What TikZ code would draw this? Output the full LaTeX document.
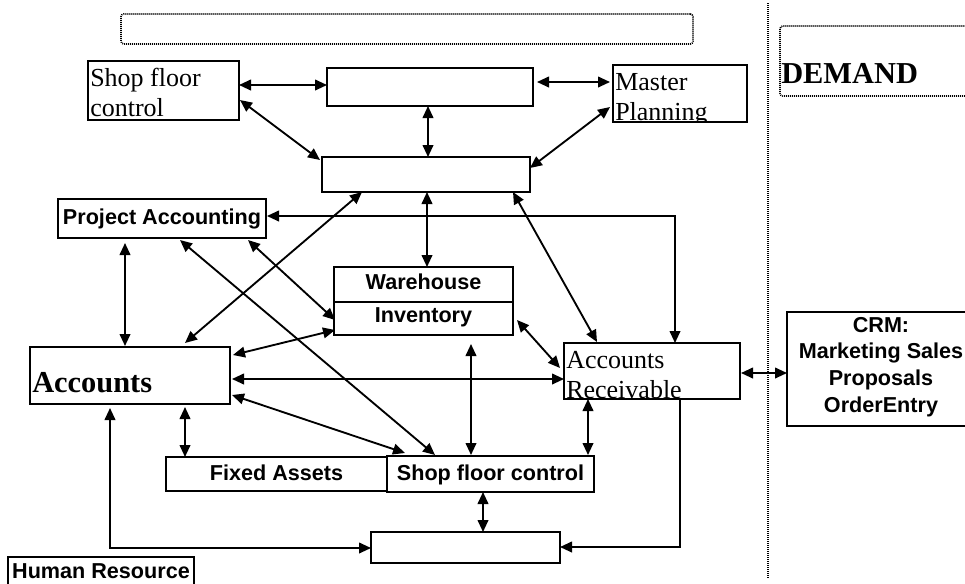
\documentclass[tikz,border=0pt]{standalone}
\usepackage{fontspec}
\setmainfont{Liberation Serif}
\setsansfont{Liberation Sans}
\usetikzlibrary{arrows.meta,calc}
\newcommand\mkbox[6]{\node[#6, minimum width={(#4-#2)*0.75pt}, minimum height={(#5-#3)*0.75pt}] (#1) at ({(#2+#4)/2},{(#3+#5)/2}) {};}
\begin{document}
\begin{tikzpicture}[x=0.75pt,y=-0.75pt,
  box/.style={draw, line width=1.5pt, inner sep=0pt, outer sep=0pt},
  dotbox/.style={draw, line width=1.2pt, dash pattern=on 0.75pt off 0.75pt, rounded corners=2pt, inner sep=0pt, outer sep=0pt},
  serif/.style={font=\fontsize{19.5pt}{22.5pt}\selectfont, inner sep=0pt, align=left},
  bserif/.style={font=\fontsize{22.8pt}{26pt}\selectfont\bfseries, inner sep=0pt},
  bsans/.style={font=\fontsize{16.2pt}{20pt}\selectfont\sffamily\bfseries, inner sep=0pt, align=center},
  dbl/.style={line width=1.4pt, {Triangle[length=9pt,width=8pt]}-{Triangle[length=9pt,width=8pt]}},
  sgl/.style={line width=1.4pt, -{Triangle[length=9pt,width=8pt]}}
]
\useasboundingbox (0,0) rectangle (965,583);
\clip (0,0) rectangle (965,583);

% dotted frames
\mkbox{topd}{121}{14}{693}{44}{dotbox}
\mkbox{dem}{780}{26}{985}{96}{dotbox}
\node[bserif, anchor=base west] (demt) at (781,83) {DEMAND};
\coordinate (vtop) at (768,3);
\coordinate (vbot) at (768,578);
\draw[line width=1.2pt, dash pattern=on 0.75pt off 0.75pt] (vtop) -- (vbot);

% boxes
\mkbox{sfc1}{88}{61}{239}{120}{box}
\mkbox{top}{327}{68}{533}{106}{box}
\mkbox{mp}{613}{65}{747}{122}{box}
\mkbox{mid}{322}{157}{530}{192}{box}
\mkbox{pa}{58}{199}{266}{238}{box}
\mkbox{wh}{334}{267}{513}{302}{box}
\mkbox{inv}{334}{302}{513}{335}{box}
\mkbox{acc}{30}{347}{230}{404}{box}
\mkbox{ar}{564}{343}{740}{399}{box}
\mkbox{crm}{787}{312}{975}{426}{box}
\mkbox{fa}{166}{457}{387}{491}{box}
\mkbox{sfc2}{387}{456}{594}{492}{box}
\mkbox{bot}{371}{532}{560}{563}{box}
\mkbox{hr}{8}{557}{194}{590}{box}

% texts (multi-line nodes: base = baseline of last line)
\node[serif, anchor=base west] (sfc1t) at (90,116) {Shop floor\\control};
\begin{scope}
\clip (mp.north west) rectangle (mp.south east);
\node[serif, anchor=base west] (mpt) at (615,120) {Master\\Planning};
\end{scope}
\begin{scope}
\clip (ar.north west) rectangle (ar.south east);
\node[serif, anchor=base west] (art) at (566,398) {Accounts\\Receivable};
\end{scope}
\node[bserif, anchor=base west] (acct) at (32,392) {Accounts};
\node[bsans] (pat) at (pa.center) {Project Accounting};
\node[bsans] (wht) at ($(wh.center)+(0,-3)$) {Warehouse};
\node[bsans] (invt) at ($(inv.center)+(0,-1)$) {Inventory};
\node[bsans] (fat) at ($(fa.center)+(0,-1)$) {Fixed Assets};
\node[bsans] (sfc2t) at ($(sfc2.center)+(0,1)$) {Shop floor control};
\node[bsans] (hrt) at (101,571) {Human Resource};
\node[bsans, anchor=base] (crmt) at (881,412) {CRM:\\Marketing Sales\\Proposals\\OrderEntry};

% connectors
\draw[dbl] ($(sfc1.north east)+(0,24)$) -- ($(top.north west)+(0,17)$);
\draw[dbl] ($(top.north east)+(4,14)$) -- ($(mp.north west)+(-3,17)$);
\draw[dbl] ($(sfc1.north east)+(1,39)$) -- ($(mid.north west)+(-2,3)$);
\draw[dbl] ($(top.south west)+(101,0)$) -- ($(mid.north west)+(106,0)$);
\draw[dbl] ($(mp.north west)+(-3,42)$) -- ($(mid.north east)+(0,11)$);
\draw[dbl] ($(mid.south west)+(105,0)$) -- ($(wh.north west)+(93,0)$);
\draw[dbl] ($(pa.north east)+(1,17)$) -| ($(ar.north west)+(111,0)$);
\draw[dbl] ($(mid.south west)+(40,0)$) -- ($(acc.north east)+(-45,-4)$);
\draw[dbl] ($(mid.south east)+(-17,0)$) -- ($(ar.north west)+(33,-1)$);
\draw[dbl] ($(pa.south west)+(67,5)$) -- ($(acc.north west)+(95,-1)$);
\draw[dbl] ($(pa.south west)+(122,2)$) -- ($(sfc2.north west)+(48,-1)$);
\draw[dbl] ($(pa.south west)+(190,2)$) -- ($(inv.north west)+(1,18)$);
\draw[dbl] ($(inv.south west)+(1,-5)$) -- ($(acc.north east)+(3,8)$);
\draw[dbl] ($(inv.north east)+(4,18)$) -- ($(ar.north west)+(-4,25)$);
\draw[dbl] ($(acc.north east)+(2,32)$) -- ($(ar.north west)+(0,36)$);
\draw[dbl] ($(acc.north east)+(2,48)$) -- ($(sfc2.north west)+(18,-3)$);
\draw[dbl] ($(inv.south west)+(137,9)$) -- ($(sfc2.north west)+(84,-1)$);
\draw[dbl] ($(ar.south west)+(24,0)$) -- ($(sfc2.north east)+(-6,-1)$);
\draw[sgl] ($(ar.south east)+(-60,0)$) |- ($(bot.north east)+(0,15)$);
\draw[dbl] ($(sfc2.south west)+(96,0)$) -- ($(bot.north west)+(112,0)$);
\draw[dbl] ($(acc.south west)+(155,3)$) -- ($(fa.north west)+(19,0)$);
\draw[dbl] ($(acc.south west)+(80,4)$) |- ($(bot.north west)+(0,16)$);
\draw[dbl] ($(ar.north east)+(1,30)$) -- ($(crm.north west)+(0,61)$);
\end{tikzpicture}
\end{document}
